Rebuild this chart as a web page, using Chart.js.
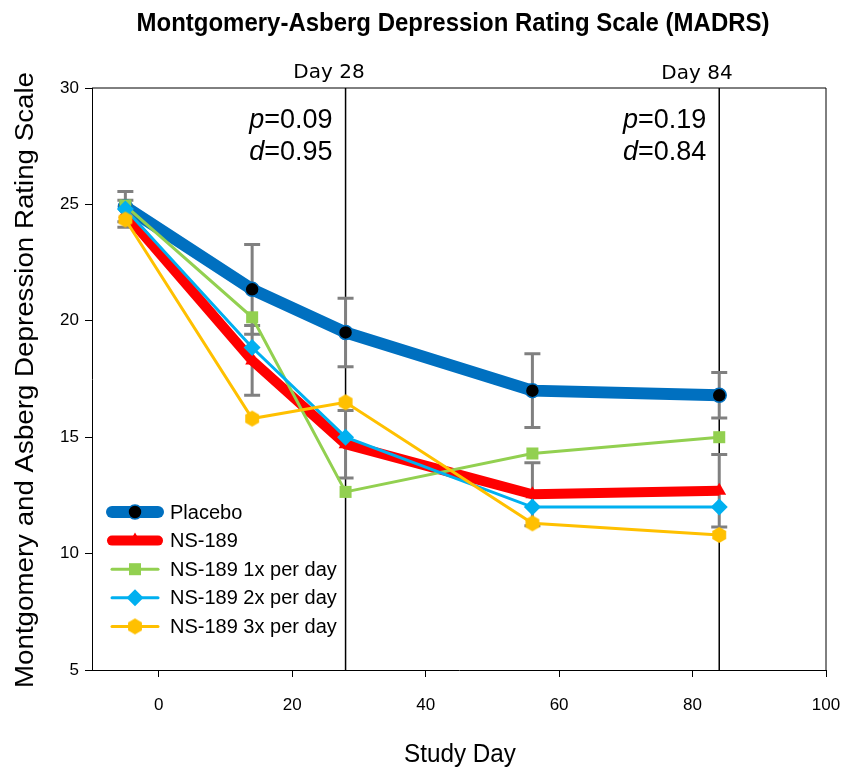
<!DOCTYPE html>
<html>
<head>
<meta charset="utf-8">
<script src="https://cdn.jsdelivr.net/npm/chart.js@4"></script>
<style>
  body { margin: 0; background: #fff; }
  #wrap { width: 846px; height: 768px; }
</style>
</head>
<body>
<div id="wrap"><canvas id="myChart"></canvas></div>
<script>
// data
var days = [-5, 14, 28, 56, 84];
var placebo = [24.9, 21.35, 19.5, 17.0, 16.8];
var placeboSE = [0.65, 1.93, 1.47, 1.58, 0.98];
var ns189 = [24.6, 18.3, 14.7, 12.55, 12.7];
var ns189SE = [0.58, 1.5, 1.45, 1.35, 1.56];
var ns189x1 = [24.95, 20.15, 12.65, 14.3, 15.0];
var ns189x2 = [24.8, 18.85, 15.0, 12.0, 12.0];
var ns189x3 = [24.35, 15.8, 16.5, 11.3, 10.8];
var markerDays = [28, 84];
var markerLabels = ['Day 28', 'Day 84'];
var pValues = ['0.09', '0.19'];
var dValues = ['0.95', '0.84'];
var xTicks = [0, 20, 40, 60, 80, 100];

function pts(ys) {
  return days.map(function (d, i) { return { x: d, y: ys[i] }; });
}

// hexagon marker for the 3x series
function hexagon(r, color) {
  var c = document.createElement('canvas');
  c.width = r * 2 + 2; c.height = r * 2 + 2;
  var g = c.getContext('2d');
  g.beginPath();
  for (var k = 0; k < 6; k++) {
    var a = Math.PI / 2 + k * Math.PI / 3;
    var px = r + 1 + r * Math.cos(a), py = r + 1 + r * Math.sin(a);
    if (k == 0) g.moveTo(px, py); else g.lineTo(px, py);
  }
  g.closePath();
  g.fillStyle = color;
  g.fill();
  return c;
}
var hex = hexagon(8, '#FFC000');

// text squeezed to a given width (the source picture is a bit narrow)
function fitText(c, text, x, y, width) {
  var m = c.measureText(text).width;
  c.save();
  c.translate(x, y);
  c.scale(width / m, 1);
  c.fillText(text, 0, 0);
  c.restore();
}

var extras = {
  id: 'extras',
  beforeDatasetsDraw: function (chart) {
    var c = chart.ctx, xs = chart.scales.x, ys = chart.scales.y, a = chart.chartArea;
    c.save();
    // box
    c.strokeStyle = '#000'; c.lineWidth = 1;
    c.beginPath();
    c.moveTo(a.left, a.top); c.lineTo(a.right, a.top); c.lineTo(a.right, a.bottom);
    c.stroke();
    // day lines
    c.lineWidth = 1.5;
    markerDays.forEach(function (d) {
      var px = xs.getPixelForValue(d);
      c.beginPath(); c.moveTo(px, a.top); c.lineTo(px, a.bottom); c.stroke();
    });
    // error bars
    c.strokeStyle = '#808080'; c.lineWidth = 3;
    [[placebo, placeboSE], [ns189, ns189SE]].forEach(function (s) {
      days.forEach(function (d, i) {
        var px = xs.getPixelForValue(d);
        var t = ys.getPixelForValue(s[0][i] + s[1][i]);
        var b = ys.getPixelForValue(s[0][i] - s[1][i]);
        c.beginPath();
        c.moveTo(px, t); c.lineTo(px, b);
        c.moveTo(px - 8, t); c.lineTo(px + 8, t);
        c.moveTo(px - 8, b); c.lineTo(px + 8, b);
        c.stroke();
      });
    });
    c.restore();
  },
  afterDraw: function (chart) {
    var c = chart.ctx, xs = chart.scales.x, ys = chart.scales.y, a = chart.chartArea;
    c.save();
    c.fillStyle = '#000';
    c.textAlign = 'center'; c.textBaseline = 'alphabetic';
    // title
    c.font = 'bold 25px "Liberation Sans", Arial, sans-serif';
    fitText(c, 'Montgomery-Asberg Depression Rating Scale (MADRS)', 453, 31, 633);
    // day labels
    c.font = '20px "DejaVu Sans", sans-serif';
    c.fillText(markerLabels[0], 329, 78);
    c.fillText(markerLabels[1], 697, 79);
    // axis titles
    c.font = '26px "Liberation Sans", Arial, sans-serif';
    fitText(c, 'Study Day', 460, 762, 112);
    c.save();
    c.translate(33, 380);
    c.rotate(-Math.PI / 2);
    fitText(c, 'Montgomery and Asberg Depression Rating Scale', 0, 0, 616);
    c.restore();
    // p / d annotations
    c.textAlign = 'left';
    markerDays.forEach(function (d, i) {
      var right = xs.getPixelForValue(d) - 13;
      [['p', pValues[i], 128], ['d', dValues[i], 160]].forEach(function (r) {
        c.font = '27px "Liberation Sans", Arial, sans-serif';
        var w2 = c.measureText('=' + r[1]).width;
        c.font = 'italic 27px "Liberation Sans", Arial, sans-serif';
        var w1 = c.measureText(r[0]).width;
        c.fillText(r[0], right - w2 - w1, r[2]);
        c.font = '27px "Liberation Sans", Arial, sans-serif';
        c.fillText('=' + r[1], right - w2, r[2]);
      });
    });
    // legend
    c.font = '20px "Liberation Sans", Arial, sans-serif';
    c.textBaseline = 'middle';
    chart.data.datasets.forEach(function (ds, i) {
      var yy = 512 + i * 28.6;
      c.strokeStyle = ds.borderColor;
      c.lineWidth = ds.borderWidth;
      c.lineCap = 'round';
      c.beginPath(); c.moveTo(112, yy); c.lineTo(158, yy); c.stroke();
      c.fillStyle = ds.pointBackgroundColor;
      c.strokeStyle = ds.pointBorderColor;
      c.lineWidth = ds.pointBorderWidth || 0;
      Chart.helpers.drawPoint(c, {
        pointStyle: ds.pointStyle, radius: ds.pointRadius, rotation: 0,
        borderWidth: ds.pointBorderWidth || 0
      }, 135, yy);
      c.fillStyle = '#000';
      c.fillText(ds.label, 170, yy + 1);
    });
    c.restore();
  }
};

var ctx = document.getElementById('myChart').getContext('2d');
var chart = new Chart(ctx, {
  type: 'line',
  data: {
    datasets: [{
      label: 'Placebo',
      data: pts(placebo),
      borderColor: '#0070C0',
      borderWidth: 12,
      pointStyle: 'circle',
      pointRadius: 7,
      pointBackgroundColor: '#000',
      pointBorderColor: '#0070C0',
      pointBorderWidth: 1.5,
      order: 5
    }, {
      label: 'NS-189',
      data: pts(ns189),
      borderColor: '#FF0000',
      borderWidth: 10,
      pointStyle: 'triangle',
      pointRadius: 8,
      pointBackgroundColor: '#FF0000',
      pointBorderColor: '#FF0000',
      pointBorderWidth: 0,
      order: 4
    }, {
      label: 'NS-189 1x per day',
      data: pts(ns189x1),
      borderColor: '#92D050',
      borderWidth: 3,
      pointStyle: 'rect',
      pointRadius: 8.5,
      pointBackgroundColor: '#92D050',
      pointBorderColor: '#92D050',
      pointBorderWidth: 0,
      order: 3
    }, {
      label: 'NS-189 2x per day',
      data: pts(ns189x2),
      borderColor: '#00B0F0',
      borderWidth: 3,
      pointStyle: 'rectRot',
      pointRadius: 8.5,
      pointBackgroundColor: '#00B0F0',
      pointBorderColor: '#00B0F0',
      pointBorderWidth: 0,
      order: 2
    }, {
      label: 'NS-189 3x per day',
      data: pts(ns189x3),
      borderColor: '#FFC000',
      borderWidth: 3,
      pointStyle: hex,
      pointRadius: 8,
      pointBackgroundColor: '#FFC000',
      pointBorderColor: '#FFC000',
      pointBorderWidth: 0,
      order: 1
    }]
  },
  options: {
    responsive: true,
    maintainAspectRatio: false,
    animation: false,
    layout: { padding: { left: 0, right: 20, top: 88, bottom: 0 } },
    plugins: { legend: { display: false }, tooltip: { enabled: false } },
    scales: {
      x: {
        type: 'linear',
        min: -10, max: 100,
        afterFit: function (s) { s.height = 98; s.paddingLeft = 0; s.paddingRight = 0; },
        afterBuildTicks: function (s) {
          s.ticks = xTicks.map(function (v) { return { value: v }; });
        },
        grid: { drawOnChartArea: false, tickLength: 7, color: '#000' },
        border: { color: '#000', width: 1 },
        ticks: { color: '#000', font: { family: '"Liberation Sans", Arial', size: 17 }, padding: 18, maxRotation: 0, minRotation: 0 }
      },
      y: {
        min: 5, max: 30,
        afterFit: function (s) { s.width = 92; },
        grid: { drawOnChartArea: false, tickLength: 7, color: '#000' },
        border: { color: '#000', width: 1 },
        ticks: { stepSize: 5, color: '#000', font: { family: '"Liberation Sans", Arial', size: 17 }, padding: 6 }
      }
    }
  },
  plugins: [extras]
});
</script>
</body>
</html>
